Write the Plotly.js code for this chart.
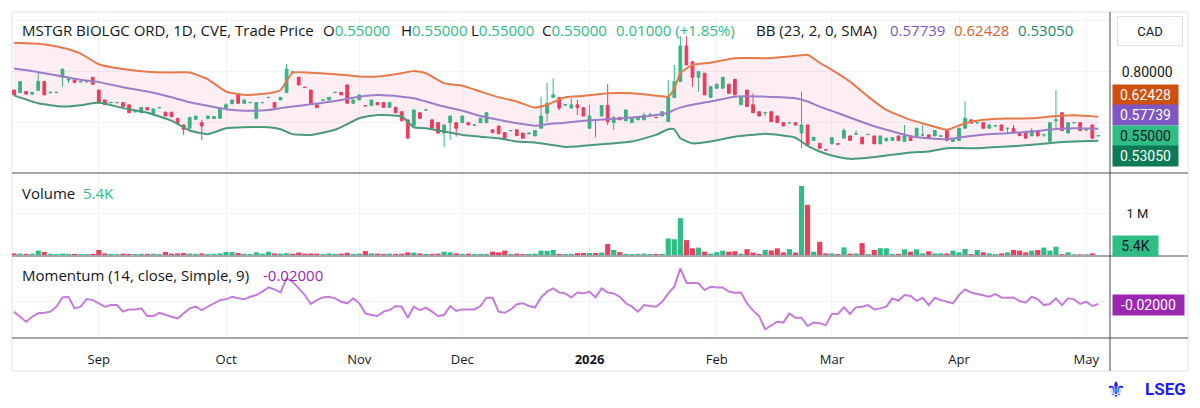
<!DOCTYPE html>
<html>
<head>
<meta charset="utf-8">
<script src="https://cdn.plot.ly/plotly-3.0.1.min.js"></script>
<style>
  html, body { margin: 0; padding: 0; background: #ffffff; }
  #chart { width: 1200px; height: 408px; }
</style>
</head>
<body>
<div id="chart"></div>
<script>
// Daily bars, one per traded session (TradingView bar index axis)
var open = [
  0.729,0.719,0.723,0.713,0.727,0.762,0.718,0.719,0.779,0.768,
  0.769,0.761,0.761,0.779,0.729,0.690,0.679,0.679,0.680,0.671,
  0.643,0.640,0.660,0.631,0.659,0.642,0.642,0.618,0.592,0.579,
  0.614,0.601,0.617,0.617,0.618,0.658,0.675,0.710,0.677,0.679,
  0.618,0.679,0.699,0.680,0.690,0.719,0.800,0.779,0.740,0.729,
  0.671,0.689,0.690,0.719,0.720,0.749,0.677,0.690,0.668,0.668,
  0.680,0.680,0.661,0.661,0.644,0.612,0.589,0.640,0.650,0.612,
  0.601,0.560,0.601,0.601,0.601,0.601,0.591,0.601,0.601,0.573,
  0.588,0.562,0.569,0.573,0.560,0.557,0.549,0.579,0.638,0.700,
  0.700,0.670,0.658,0.671,0.660,0.579,0.612,0.627,0.668,0.601,
  0.622,0.608,0.601,0.612,0.612,0.630,0.622,0.627,0.605,0.700,
  0.762,0.902,0.840,0.779,0.795,0.700,0.736,0.736,0.752,0.771,
  0.671,0.729,0.671,0.644,0.640,0.644,0.627,0.601,0.600,0.601,
  0.560,0.592,0.531,0.520,0.495,0.518,0.518,0.540,0.549,0.556,
  0.544,0.554,0.549,0.518,0.531,0.531,0.549,0.527,0.549,0.544,
  0.552,0.553,0.549,0.548,0.570,0.527,0.531,0.579,0.612,0.600,
  0.601,0.579,0.588,0.592,0.578,0.579,0.562,0.566,0.549,0.570,
  0.553,0.527,0.609,0.640,0.560,0.600,0.601,0.572,0.592,0.549
];
var high = [
  0.729,0.762,0.723,0.720,0.801,0.762,0.721,0.721,0.811,0.781,
  0.769,0.763,0.763,0.779,0.729,0.690,0.681,0.681,0.680,0.671,
  0.645,0.661,0.660,0.655,0.661,0.642,0.642,0.618,0.592,0.622,
  0.627,0.612,0.627,0.625,0.654,0.677,0.690,0.710,0.690,0.681,
  0.680,0.681,0.701,0.680,0.700,0.831,0.801,0.779,0.741,0.729,
  0.671,0.691,0.700,0.721,0.720,0.749,0.690,0.710,0.669,0.690,
  0.680,0.680,0.680,0.661,0.644,0.612,0.651,0.640,0.652,0.612,
  0.601,0.595,0.627,0.601,0.627,0.601,0.593,0.618,0.640,0.573,
  0.588,0.562,0.571,0.573,0.560,0.560,0.570,0.703,0.756,0.775,
  0.700,0.672,0.697,0.690,0.660,0.671,0.612,0.668,0.752,0.627,
  0.622,0.651,0.618,0.622,0.640,0.640,0.622,0.644,0.769,0.827,
  0.940,0.940,0.840,0.801,0.795,0.742,0.752,0.779,0.752,0.771,
  0.700,0.729,0.716,0.644,0.642,0.644,0.627,0.601,0.601,0.601,
  0.723,0.592,0.544,0.520,0.495,0.542,0.518,0.579,0.549,0.570,
  0.544,0.556,0.549,0.549,0.540,0.542,0.549,0.592,0.549,0.579,
  0.592,0.553,0.570,0.549,0.570,0.537,0.579,0.684,0.612,0.601,
  0.601,0.592,0.589,0.592,0.580,0.592,0.562,0.570,0.580,0.570,
  0.554,0.601,0.729,0.640,0.601,0.601,0.601,0.573,0.592,0.550
];
var low = [
  0.710,0.719,0.713,0.713,0.727,0.710,0.718,0.719,0.742,0.756,
  0.758,0.761,0.761,0.752,0.677,0.671,0.679,0.679,0.664,0.640,
  0.643,0.640,0.651,0.631,0.659,0.627,0.624,0.599,0.553,0.579,
  0.614,0.533,0.617,0.617,0.618,0.658,0.675,0.677,0.677,0.679,
  0.618,0.679,0.699,0.661,0.690,0.719,0.799,0.749,0.739,0.677,
  0.660,0.689,0.690,0.719,0.710,0.677,0.677,0.690,0.667,0.668,
  0.671,0.661,0.661,0.640,0.608,0.540,0.589,0.618,0.650,0.579,
  0.560,0.505,0.533,0.546,0.601,0.592,0.591,0.601,0.601,0.562,
  0.557,0.540,0.569,0.550,0.540,0.557,0.549,0.579,0.605,0.700,
  0.650,0.670,0.658,0.630,0.627,0.579,0.544,0.627,0.592,0.573,
  0.612,0.608,0.601,0.612,0.612,0.630,0.621,0.627,0.605,0.700,
  0.762,0.827,0.742,0.723,0.710,0.700,0.736,0.736,0.716,0.710,
  0.671,0.664,0.640,0.627,0.627,0.605,0.601,0.588,0.600,0.592,
  0.501,0.514,0.531,0.501,0.494,0.518,0.517,0.540,0.531,0.556,
  0.518,0.554,0.518,0.518,0.525,0.531,0.531,0.527,0.531,0.544,
  0.552,0.540,0.549,0.548,0.531,0.527,0.531,0.579,0.599,0.600,
  0.579,0.579,0.588,0.570,0.560,0.566,0.550,0.540,0.549,0.549,
  0.545,0.527,0.573,0.570,0.560,0.600,0.570,0.572,0.536,0.549
];
var close = [
  0.710,0.762,0.713,0.720,0.762,0.710,0.720,0.720,0.811,0.771,
  0.758,0.762,0.762,0.752,0.677,0.671,0.680,0.680,0.664,0.640,
  0.644,0.661,0.651,0.655,0.660,0.627,0.624,0.599,0.575,0.622,
  0.627,0.588,0.627,0.625,0.654,0.671,0.690,0.677,0.690,0.680,
  0.680,0.680,0.700,0.661,0.700,0.811,0.799,0.749,0.739,0.677,
  0.660,0.690,0.700,0.720,0.710,0.677,0.690,0.710,0.667,0.690,
  0.671,0.661,0.680,0.640,0.608,0.540,0.651,0.618,0.651,0.579,
  0.560,0.592,0.627,0.579,0.627,0.592,0.592,0.618,0.640,0.562,
  0.557,0.540,0.570,0.550,0.540,0.560,0.570,0.627,0.677,0.710,
  0.658,0.671,0.671,0.660,0.627,0.627,0.611,0.668,0.605,0.621,
  0.612,0.651,0.618,0.622,0.631,0.631,0.621,0.644,0.700,0.762,
  0.902,0.827,0.779,0.801,0.710,0.742,0.752,0.779,0.716,0.710,
  0.700,0.664,0.640,0.627,0.641,0.605,0.601,0.588,0.601,0.592,
  0.592,0.514,0.544,0.501,0.494,0.542,0.517,0.570,0.531,0.557,
  0.518,0.555,0.518,0.549,0.540,0.542,0.531,0.549,0.531,0.579,
  0.553,0.540,0.570,0.549,0.531,0.537,0.579,0.618,0.599,0.601,
  0.579,0.592,0.589,0.570,0.579,0.566,0.550,0.540,0.570,0.549,
  0.554,0.601,0.612,0.570,0.601,0.601,0.570,0.573,0.540,0.550
];
// Volume per bar, thousands of shares
var volumeK = [
  60,55,50,55,125,95,50,45,55,50, 50,45,45,50,140,60,50,45,55,50,
  45,50,50,55,45,95,55,60,70,55, 50,60,45,50,60,95,90,70,50,45,
  85,55,100,60,55,65,50,80,55,60, 55,45,60,50,55,75,50,55,115,60,
  55,50,55,50,55,85,80,60,50,50, 55,100,85,60,50,55,45,50,50,100,
  85,125,50,55,45,50,55,125,120,140, 50,45,50,70,70,70,70,80,280,140,
  90,50,45,50,55,45,50,50,410,390, 880,370,180,195,100,55,90,125,100,110,
  55,160,80,50,140,130,180,85,160,80, 1630,1190,100,330,60,60,45,200,55,60,
  300,45,140,180,180,45,50,155,100,155, 60,110,60,60,60,125,85,165,45,140,
  85,60,45,60,85,140,125,85,125,140, 195,125,215,45,85,40,40,40,60,5.4
];
// Momentum (14, close)
var momentum = [
  -0.088,-0.133,-0.177,-0.133,-0.103,-0.098,-0.088,-0.044,0.038,0.044,
  -0.059,-0.044,0.024,0.014,-0.014,-0.044,-0.030,-0.030,-0.088,-0.068,
  -0.068,-0.059,-0.127,-0.127,-0.098,-0.118,-0.133,-0.147,-0.103,-0.059,
  -0.044,-0.074,-0.044,-0.014,0.014,0.021,0.044,0.030,0.021,0.044,
  0.059,0.089,0.127,0.109,0.082,0.207,0.177,0.118,0.059,-0.020,
  0.014,0.038,0.044,0.030,0.000,-0.014,0.030,-0.014,-0.103,-0.118,
  -0.127,-0.088,-0.074,-0.038,-0.044,-0.142,-0.044,-0.074,-0.052,-0.088,
  -0.127,-0.118,-0.038,-0.082,-0.068,-0.068,-0.068,-0.038,0.035,0.035,
  -0.088,-0.098,-0.068,-0.023,-0.014,-0.038,-0.052,0.038,0.089,0.118,
  0.082,0.074,0.038,0.082,0.074,0.089,0.038,0.118,0.082,0.074,
  0.044,-0.014,-0.044,-0.088,-0.030,-0.038,-0.044,0.000,0.074,0.133,
  0.295,0.168,0.168,0.163,0.103,0.133,0.125,0.125,0.089,0.079,
  0.082,-0.014,-0.079,-0.127,-0.244,-0.207,-0.177,-0.185,-0.103,-0.142,
  -0.142,-0.215,-0.185,-0.191,-0.207,-0.109,-0.109,-0.050,-0.109,-0.050,
  -0.044,-0.030,-0.068,-0.059,-0.044,0.030,0.008,0.059,0.050,0.008,
  0.035,-0.030,0.035,0.014,0.000,-0.014,0.059,0.109,0.082,0.068,
  0.059,0.044,0.068,0.038,0.035,0.038,0.006,-0.008,0.044,0.021,
  -0.030,-0.020,0.030,-0.030,0.030,0.021,-0.020,0.000,-0.038,-0.020
];
// Bollinger Bands (23, 2) read at knot bars
var bbIdx = [0,4,8,11,14,18,22,26,29,32,35,38,42,44,46,49,53,57,60,64,
  66,68,71,74,77,80,83,86,88,91,94,98,102,106,108,109,110,112,115,119,
  124,129,131,133,135,138,141,144,148,151,154,157,160,164,168,172,175,179];
var bbUpper = [0.914,0.910,0.895,0.872,0.830,0.811,0.801,0.798,0.798,0.771,
  0.723,0.710,0.716,0.729,0.797,0.797,0.791,0.782,0.782,0.795,
  0.804,0.795,0.756,0.746,0.723,0.701,0.684,0.660,0.671,0.701,
  0.706,0.716,0.716,0.707,0.703,0.736,0.795,0.827,0.836,0.854,
  0.854,0.863,0.867,0.836,0.808,0.762,0.703,0.651,0.612,0.592,
  0.573,0.599,0.612,0.617,0.618,0.627,0.630,0.62428];
var bbMid = [0.813,0.799,0.782,0.769,0.760,0.740,0.723,0.701,0.681,0.667,
  0.654,0.648,0.651,0.658,0.664,0.673,0.686,0.703,0.709,0.703,
  0.697,0.684,0.664,0.648,0.627,0.612,0.599,0.589,0.595,0.601,
  0.608,0.614,0.621,0.631,0.640,0.651,0.660,0.671,0.684,0.703,
  0.703,0.697,0.684,0.664,0.647,0.621,0.595,0.573,0.548,0.540,
  0.536,0.546,0.554,0.559,0.566,0.576,0.579,0.57739];
var bbLower = [0.708,0.677,0.664,0.669,0.680,0.658,0.640,0.609,0.570,0.556,
  0.579,0.583,0.583,0.575,0.556,0.553,0.573,0.618,0.631,0.625,
  0.583,0.579,0.566,0.553,0.546,0.540,0.527,0.523,0.516,0.506,
  0.510,0.518,0.527,0.553,0.575,0.575,0.540,0.520,0.527,0.546,
  0.557,0.542,0.510,0.488,0.472,0.459,0.463,0.472,0.484,0.488,
  0.501,0.501,0.502,0.507,0.514,0.523,0.527,0.5305];

var tickIdx = [14, 35, 57, 74, 95, 116, 135, 156, 177];
var tickLabels = ['Sep', 'Oct', 'Nov', 'Dec', '<b>2026</b>', 'Feb', 'Mar', 'Apr', 'May'];

var UP = '#2ebd85', DOWN = '#ea3f5d';
var TXT = '#131722';
var FONT = 'Roboto, "DejaVu Sans", sans-serif';
var LEGEND_FONT = '"Open Sans", Roboto, sans-serif';

var bars = open.map(function (_, i) { return i; });
var volColors = open.map(function (o, i) { return close[i] >= o ? UP : DOWN; });

var data = [
  {
    type: 'scatter', mode: 'lines', x: bbIdx, y: bbUpper, xaxis: 'x', yaxis: 'y',
    line: { color: '#e57b4b', width: 2, shape: 'spline', smoothing: 0.5 }
  },
  {
    type: 'scatter', mode: 'lines', x: bbIdx, y: bbLower, xaxis: 'x', yaxis: 'y',
    fill: 'tonexty', fillcolor: 'rgba(233, 30, 99, 0.075)',
    line: { color: '#4a9a78', width: 2, shape: 'spline', smoothing: 0.5 }
  },
  {
    type: 'scatter', mode: 'lines', x: bbIdx, y: bbMid, xaxis: 'x', yaxis: 'y',
    line: { color: '#9b7dc8', width: 2, shape: 'spline', smoothing: 0.5 }
  },
  {
    type: 'candlestick', x: bars, open: open, high: high, low: low, close: close,
    xaxis: 'x', yaxis: 'y', whiskerwidth: 0,
    increasing: { line: { color: UP, width: 1 }, fillcolor: UP },
    decreasing: { line: { color: DOWN, width: 1 }, fillcolor: DOWN }
  },
  {
    type: 'bar', x: bars, y: volumeK.map(function (v) { return v * 1000; }),
    xaxis: 'x', yaxis: 'y2', marker: { color: volColors, line: { width: 0 } }
  },
  {
    type: 'scatter', mode: 'lines', x: bars, y: momentum, xaxis: 'x', yaxis: 'y3',
    line: { color: '#c47bd9', width: 2 }
  }
];

// pixel helpers for labels placed like the TradingView overlay
function px(x) { return (x - 12) / 1098; }
function py(y) { return (338 - y) / 326; }

function text(x, y, t, color, size) {
  return {
    xref: 'paper', yref: 'paper', x: px(x), y: py(y), xanchor: 'left', yanchor: 'middle',
    text: t, showarrow: false, font: { family: LEGEND_FONT, size: size || 15, color: color || TXT }
  };
}
function priceBox(yref, value, shift, t, bg, fg, w) {
  return {
    xref: 'paper', yref: yref, x: 1, y: value, xanchor: 'left', yanchor: 'middle',
    xshift: 2, yshift: shift, width: w || 65, height: 20, borderpad: 0,
    bgcolor: bg, text: t, showarrow: false, align: 'center',
    font: { family: FONT, size: 14, color: fg }
  };
}

var annotations = [
  text(20, 30, 'MSTGR BIOLGC ORD, 1D, CVE, Trade Price'),
  text(321, 30, 'O<span style="color:' + UP + '">0.55000</span>'),
  text(399, 30, 'H<span style="color:' + UP + '">0.55000</span>'),
  text(469, 30, 'L<span style="color:' + UP + '">0.55000</span>'),
  text(540, 30, 'C<span style="color:' + UP + '">0.55000</span>'),
  text(614, 30, '0.01000 (+1.85%)', UP),
  text(754, 30, 'BB (23, 2, 0, SMA)'),
  text(888, 30, '0.57739', '#7e57c2'),
  text(952, 30, '0.62428', '#d9622b'),
  text(1016, 30, '0.53050', '#1e8a66'),
  text(20, 193, 'Volume'),
  text(81, 193, '5.4K', UP),
  text(20, 275, 'Momentum (14, close, Simple, 9)'),
  text(261, 275, '-0.02000', '#9c27b0'),
  priceBox('y', 0.62428, 22, '0.62428', '#cf4f0e', '#ffffff'),
  priceBox('y', 0.57739, 14, '0.57739', '#7e57c2', '#ffffff'),
  priceBox('y', 0.55, 0, '0.55000', UP, TXT),
  priceBox('y', 0.5305, -15, '0.53050', '#0b7a55', '#ffffff'),
  priceBox('y2', 5400, 10, '5.4K', UP, TXT, 45),
  priceBox('y3', -0.02, -1, '-0.02000', '#9c27b0', '#ffffff', 71),
  {
    xref: 'paper', yref: 'paper', x: px(1150), y: py(31), xanchor: 'center', yanchor: 'middle',
    width: 62, height: 26, bordercolor: '#e0e3eb', borderwidth: 1, bgcolor: '#ffffff',
    text: 'CAD', showarrow: false, font: { family: FONT, size: 13, color: TXT }
  },
  {
    xref: 'paper', yref: 'paper', x: px(1188), y: py(389), xanchor: 'right', yanchor: 'middle',
    text: '<b>LSEG</b>', showarrow: false, font: { family: FONT, size: 17, color: '#1c1cf0' }
  },
  {
    xref: 'paper', yref: 'paper', x: px(1116), y: py(389), xanchor: 'center', yanchor: 'middle',
    text: '\u269C', showarrow: false, font: { family: '"DejaVu Sans", sans-serif', size: 22, color: '#1c1cf0' }
  }
];

var sep = '#a3a6af';
var shapes = [
  { type: 'rect', xref: 'paper', yref: 'paper', x0: 0, x1: px(1188), y0: py(371), y1: 1,
    line: { color: '#e0e3eb', width: 1 }, layer: 'below' },
  { type: 'line', xref: 'paper', yref: 'paper', x0: 0, x1: px(1188), y0: py(173), y1: py(173),
    line: { color: sep, width: 2 } },
  { type: 'line', xref: 'paper', yref: 'paper', x0: 0, x1: px(1188), y0: py(256), y1: py(256),
    line: { color: sep, width: 2 } },
  { type: 'line', xref: 'paper', yref: 'paper', x0: 0, x1: px(1188), y0: 0, y1: 0,
    line: { color: sep, width: 2 } },
  { type: 'line', xref: 'paper', yref: 'paper', x0: 1, x1: 1, y0: py(371), y1: 1,
    line: { color: '#434651', width: 1 } }
];

var gridColor = '#f0f3fa';
var layout = {
  width: 1200, height: 408,
  margin: { l: 12, r: 90, t: 12, b: 70 },
  paper_bgcolor: '#ffffff', plot_bgcolor: '#ffffff',
  showlegend: false, bargap: 0.15, boxgap: 0.35,
  font: { family: FONT, color: TXT },
  xaxis: {
    anchor: 'y3', range: [-0.33, 180.92], rangeslider: { visible: false },
    tickmode: 'array', tickvals: tickIdx, ticktext: tickLabels,
    showgrid: true, gridcolor: gridColor, zeroline: false, showline: false,
    ticks: 'outside', ticklen: 9, tickcolor: 'rgba(0,0,0,0)',
    tickfont: { family: LEGEND_FONT, size: 13, color: TXT }, fixedrange: true
  },
  yaxis: {
    domain: [0.5061, 1], range: [0.4035, 1.035], side: 'right',
    tickmode: 'array', tickvals: [0.6, 0.8, 1.0], ticktext: ['', '0.80000', ''],
    showgrid: true, gridcolor: gridColor, zeroline: false, showline: false,
    ticks: 'outside', ticklen: 8, tickcolor: 'rgba(0,0,0,0)',
    tickfont: { family: FONT, size: 14, color: TXT }, fixedrange: true
  },
  yaxis2: {
    domain: [0.2515, 0.5061], range: [0, 1.93e6], side: 'right', anchor: 'x',
    tickmode: 'array', tickvals: [1e6], ticktext: ['1 M'],
    showgrid: true, gridcolor: gridColor, zeroline: false, showline: false,
    ticks: 'outside', ticklen: 13, tickcolor: 'rgba(0,0,0,0)',
    tickfont: { family: FONT, size: 13, color: TXT }, fixedrange: true
  },
  yaxis3: {
    domain: [0, 0.2515], range: [-0.3212, 0.4044], side: 'right', anchor: 'x',
    tickmode: 'array', tickvals: [0], ticktext: [''],
    showgrid: true, gridcolor: gridColor, zeroline: false, showline: false,
    fixedrange: true
  },
  annotations: annotations,
  shapes: shapes
};

Plotly.newPlot('chart', data, layout, { staticPlot: true, displayModeBar: false });
</script>
</body>
</html>
